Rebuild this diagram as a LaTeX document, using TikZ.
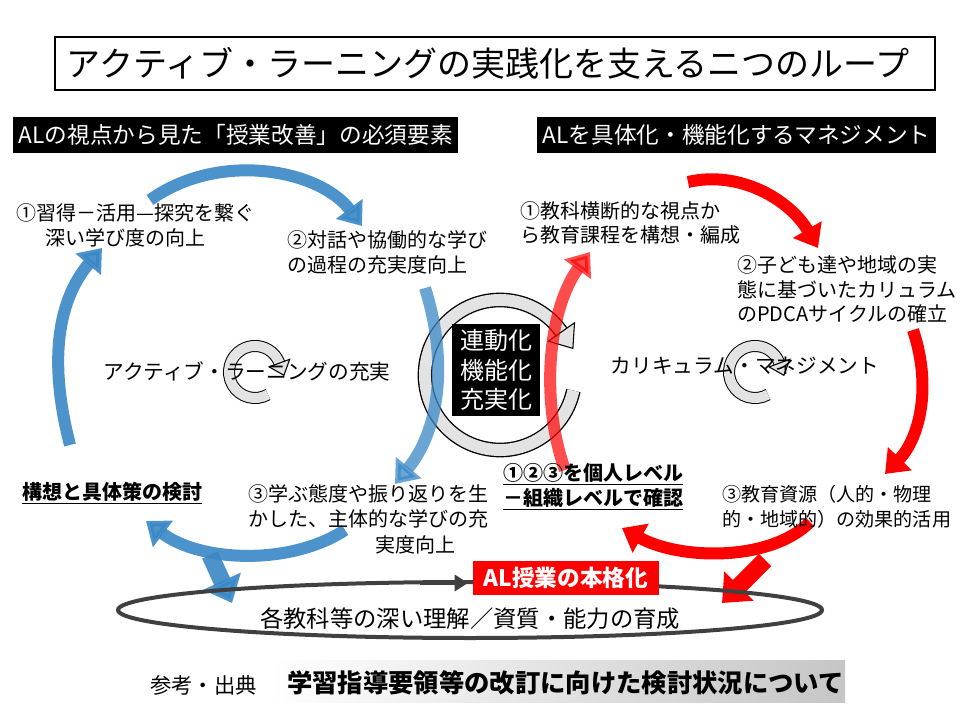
\documentclass[tikz,border=0pt]{standalone}
\usepackage{fontspec}
\setmainfont{Noto Sans CJK JP}
\usetikzlibrary{arrows.meta}

\tikzset{
  txt/.style={anchor=west, inner sep=0pt, font=\fontsize{15}{17}\selectfont},
  blk/.style={fill=black, text=white, inner sep=4pt, font=\fontsize{17}{19}\selectfont},
  bluearc/.style={color=blue!45!cyan!55!gray, line width=9pt, opacity=0.9,
    -{Triangle[width=24pt,length=16pt]}},
  redarc/.style={color=red, line width=9pt, -{Triangle[width=24pt,length=16pt]}},
  ringout/.style={black, line width=11pt},
  ringin/.style={gray!22, line width=9pt},
  ringhead/.style={draw=black, fill=gray!22, line width=0.8pt, line join=miter}
}

\begin{document}
\begin{tikzpicture}[x=0.75pt,y=-0.75pt]
  \useasboundingbox (0,0) rectangle (960,720);

  % title
  \draw[line width=0.8pt] (55,37) rectangle (935,90);
  \node[anchor=west, font=\fontsize{25.5}{27}\selectfont] (title) at (62,63) {アクティブ・ラーニングの実践化を支えるニつのループ};

  \node[blk, anchor=west, minimum height=27pt] (lhead) at (13,135) {ALの視点から見た「授業改善」の必須要素};
  \node[blk, anchor=west, minimum height=27pt, minimum width=293pt] (rhead) at (537,135) {ALを具体化・機能化するマネジメント};

  % center ring
  \draw[ringout] (500,375) ++(12:75) arc[start angle=12, end angle=326, radius=75];
  \draw[ringin] (500,375) ++(12:75) arc[start angle=12, end angle=326, radius=75];
  \draw[ringhead] (574.5,322.8) -- (572.9,348.4) -- (548.3,341.2) -- cycle;
  % small rings
  \foreach \cx in {255,755}{
    \draw[ringout, line width=9pt] (\cx,372) ++(60:26) arc[start angle=60, end angle=341, radius=26];
    \draw[ringin, line width=7.5pt] (\cx,372) ++(60:26) arc[start angle=60, end angle=341, radius=26];
    \draw[ringhead] (\cx+34.7,359.3) -- (\cx+28.9,375.3) -- (\cx+14.1,366.9) -- cycle;
  }

  % blue loop
  \draw[bluearc] (150,200) .. controls (220,150) and (320,170) .. (362,226);
  \draw[bluearc, opacity=0.75] (425,288) .. controls (448,360) and (440,430) .. (395,484);
  \draw[bluearc] (345,530) .. controls (290,566) and (200,562) .. (146,521);
  \draw[bluearc] (70,445) .. controls (48,360) and (58,300) .. (102,248);
  \draw[bluearc, line width=13pt, -{Triangle[width=30pt,length=18pt]}] (210,555) -- (232,603);

  % red loop
  \draw[redarc] (688,182) .. controls (740,170) and (790,200) .. (818,248);
  \draw[redarc] (913,330) .. controls (933,390) and (918,440) .. (885,474);
  \draw[redarc] (810,522) .. controls (770,562) and (680,560) .. (622,528);
  \draw[redarc, opacity=0.7] (565,470) .. controls (540,400) and (548,310) .. (590,252);
  \draw[redarc, line width=13pt, -{Triangle[width=30pt,length=18pt]}] (765,560) -- (722,603);

  % center label
  \node[blk, align=center, minimum width=66pt, minimum height=68pt,
        font=\fontsize{18}{22}\selectfont] (core) at (496,370) {連動化\\機能化\\充実化};

  % bottom ellipse
  \draw[black!75, line width=3pt] (470,610) ellipse[x radius=352, y radius=28];
  \draw[black!75, line width=3pt, -{Triangle[width=12pt,length=10pt]}] (420,583) -- (468,583);
  \node[fill=red, text=white, inner sep=4pt, minimum width=140pt, minimum height=26pt,
        font=\bfseries\fontsize{17}{19}\selectfont] (alnode) at (566,578) {AL授業の本格化};
  \node[font=\fontsize{17.5}{19}\selectfont] (goal) at (470,619) {各教科等の深い理解／資質・能力の育成};

  % left texts
  \node[txt] (l1a) at (16,213) {①習得－活用—探究を繋ぐ};
  \node[txt] (l1b) at (45,238) {深い学び度の向上};
  \node[txt] (l2a) at (287,240) {②対話や協働的な学び};
  \node[txt] (l2b) at (287,265) {の過程の充実度向上};
  \node[font=\fontsize{15.5}{17}\selectfont] (lmid) at (247,371) {アクティブ・ラーニングの充実};
  \node[txt, font=\bfseries\fontsize{15}{17}\selectfont] (plan) at (22,493) {\underline{構想と具体策の検討}};
  \node[txt] (l3a) at (248,494) {③学ぶ態度や振り返りを生};
  \node[txt] (l3b) at (248,519) {かした、主体的な学びの充};
  \node[txt] (l3c) at (375,545) {実度向上};

  % right texts
  \node[txt] (r1a) at (520,211) {①教科横断的な視点か};
  \node[txt] (r1b) at (520,235) {ら教育課程を構想・編成};
  \node[txt] (r2a) at (737,265) {②子ども達や地域の実};
  \node[txt] (r2b) at (737,290) {態に基づいたカリュラム};
  \node[txt] (r2c) at (737,314) {のPDCAサイクルの確立};
  \node[font=\fontsize{15.5}{17}\selectfont] (rmid) at (745,366) {カリキュラム・マネジメント};
  \node[txt, font=\bfseries\fontsize{15}{17}\selectfont] (chk1) at (503,474) {\underline{①②③を個人レベル}};
  \node[txt, font=\bfseries\fontsize{15}{17}\selectfont] (chk2) at (503,499) {\underline{－組織レベルで確認}};
  \node[txt, font=\fontsize{14.3}{16}\selectfont] (r3a) at (722,494) {③教育資源（人的・物理};
  \node[txt, font=\fontsize{14.3}{16}\selectfont] (r3b) at (722,519) {的・地域的）の効果的活用};

  % source
  \shade[left color=white, right color=gray!45] (270,660) rectangle (845,702);
  \node[txt, font=\fontsize{16}{18}\selectfont] (src) at (150,685) {参考・出典};
  \node[txt, font=\bfseries\fontsize{19}{21}\selectfont] (doc) at (287,683) {学習指導要領等の改訂に向けた検討状況について};
\end{tikzpicture}
\end{document}
